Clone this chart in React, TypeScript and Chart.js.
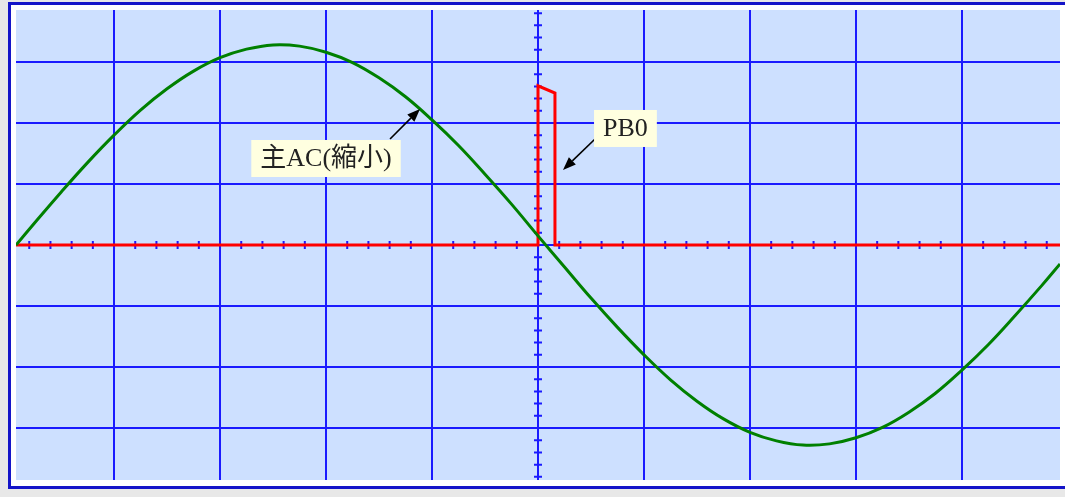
import React, { useEffect, useRef } from "react";
import Chart from "chart.js/auto";

// X in divisions (1 div = 106px), Y in divisions (1 div = 61px)
const sineX = [-4.925, -4.75, -4.5, -4.25, -4.0, -3.75, -3.5, -3.25, -3.0, -2.75, -2.5, -2.25, -2.0, -1.75, -1.5, -1.25, -1.0, -0.75, -0.5, -0.25, 0.0, 0.25, 0.5, 0.75, 1.0, 1.25, 1.5, 1.75, 2.0, 2.25, 2.5, 2.75, 3.0, 3.25, 3.5, 3.75, 4.0, 4.25, 4.5, 4.75, 4.925];
const sineY = [0, 0.36, 0.865, 1.35, 1.8, 2.21, 2.56, 2.85, 3.07, 3.21, 3.28, 3.26, 3.16, 2.99, 2.74, 2.43, 2.05, 1.63, 1.16, 0.67, 0.15, -0.36, -0.87, -1.35, -1.8, -2.21, -2.56, -2.85, -3.07, -3.21, -3.28, -3.26, -3.16, -2.99, -2.74, -2.43, -2.05, -1.63, -1.16, -0.67, -0.31];

const pulseX = [-4.925, 0.0, 0.0, 0.16, 0.16, 4.925];
const pulseY = [0, 0, 2.61, 2.49, 0, 0];

const xMajorTicks = [-4, -3, -2, -1, 0, 1, 2, 3, 4];
const yMajorTicks = [-3, -2, -1, 0, 1, 2, 3];

const seriesNames = ["主AC(縮小)", "PB0"];

const labelText = ["主AC(縮小)", "PB0"];
const labelCX = [-2.0, 0.825];
const labelCY = [1.418, 1.91];
const arrowFromX = [-1.396, 0.538];
const arrowFromY = [1.738, 1.738];
const arrowToX = [-1.113, 0.236];
const arrowToY = [2.23, 1.23];

const X_HALF = 4.925;
const Y_HALF = 3.852;

export default function App() {
  const ref = useRef<HTMLCanvasElement | null>(null);

  useEffect(() => {
    if (!ref.current) return;
    const bgPlugin = {
      id: "bg",
      beforeDraw(chart: any) {
        const { ctx, chartArea } = chart;
        ctx.save();
        ctx.fillStyle = "#cde0ff";
        ctx.fillRect(chartArea.left, chartArea.top, chartArea.right - chartArea.left, chartArea.bottom - chartArea.top);
        ctx.restore();
      },
    };
    const minorPlugin = {
      id: "minor",
      beforeDatasetsDraw(chart: any) {
        const { ctx } = chart;
        const xs = chart.scales.x;
        const ys = chart.scales.y;
        const x0 = xs.getPixelForValue(0);
        const y0 = ys.getPixelForValue(0);
        ctx.save();
        ctx.strokeStyle = "#1a1aff";
        ctx.lineWidth = 2;
        ctx.beginPath();
        for (let i = -25; i <= 25; i++) {
          const v = i * 0.2;
          if (Math.abs(v) > X_HALF) continue;
          const px = xs.getPixelForValue(v);
          ctx.moveTo(px, y0 - 4);
          ctx.lineTo(px, y0 + 4);
        }
        for (let i = -20; i <= 20; i++) {
          const v = i * 0.2;
          if (Math.abs(v) > Y_HALF) continue;
          const py = ys.getPixelForValue(v);
          ctx.moveTo(x0 - 4, py);
          ctx.lineTo(x0 + 4, py);
        }
        ctx.stroke();
        ctx.restore();
      },
    };
    const annPlugin = {
      id: "ann",
      afterDatasetsDraw(chart: any) {
        const { ctx } = chart;
        const xs = chart.scales.x;
        const ys = chart.scales.y;
        ctx.save();
        ctx.font = '26px "Liberation Serif", "Noto Sans CJK JP", serif';
        ctx.textBaseline = "middle";
        ctx.textAlign = "center";
        for (let i = 0; i < labelText.length; i++) {
          const fx = xs.getPixelForValue(arrowFromX[i]);
          const fy = ys.getPixelForValue(arrowFromY[i]);
          const tx = xs.getPixelForValue(arrowToX[i]);
          const ty = ys.getPixelForValue(arrowToY[i]);
          const ang = Math.atan2(ty - fy, tx - fx);
          const hl = 13;
          const hw = 5;
          const bx = tx - hl * Math.cos(ang);
          const by = ty - hl * Math.sin(ang);
          ctx.strokeStyle = "#000";
          ctx.lineWidth = 1.6;
          ctx.beginPath();
          ctx.moveTo(fx, fy);
          ctx.lineTo(bx, by);
          ctx.stroke();
          ctx.fillStyle = "#000";
          ctx.beginPath();
          ctx.moveTo(tx, ty);
          ctx.lineTo(bx + hw * Math.sin(ang), by - hw * Math.cos(ang));
          ctx.lineTo(bx - hw * Math.sin(ang), by + hw * Math.cos(ang));
          ctx.closePath();
          ctx.fill();
          const cx = xs.getPixelForValue(labelCX[i]);
          const cy = ys.getPixelForValue(labelCY[i]);
          const w = ctx.measureText(labelText[i]).width + 18;
          const h = 37;
          ctx.fillStyle = "#ffffe0";
          ctx.fillRect(cx - w / 2, cy - h / 2, w, h);
          ctx.fillStyle = "#222";
          ctx.fillText(labelText[i], cx, cy + 1);
        }
        ctx.restore();
      },
    };

    const chart = new Chart(ref.current, {
      type: "line",
      data: {
        datasets: [
          {
            label: seriesNames[0],
            data: sineX.map((x, i) => ({ x, y: sineY[i] })),
            borderColor: "#008000",
            borderWidth: 3,
            pointRadius: 0,
            tension: 0.4,
            order: 0,
          },
          {
            label: seriesNames[1],
            data: pulseX.map((x, i) => ({ x, y: pulseY[i] })),
            borderColor: "#ff0000",
            borderWidth: 3,
            pointRadius: 0,
            tension: 0,
            order: 1,
          },
        ],
      },
      options: {
        animation: false,
        responsive: false,
        maintainAspectRatio: false,
        layout: { padding: 0 },
        plugins: { legend: { display: false }, tooltip: { enabled: false } },
        scales: {
          x: {
            type: "linear",
            min: -X_HALF,
            max: X_HALF,
            afterBuildTicks: (scale: any) => {
              scale.ticks = xMajorTicks.map((v) => ({ value: v }));
            },
            ticks: { display: false },
            grid: { color: "#1a1aff", lineWidth: 2, drawTicks: false },
            border: { display: false },
          },
          y: {
            type: "linear",
            min: -Y_HALF,
            max: Y_HALF,
            afterBuildTicks: (scale: any) => {
              scale.ticks = yMajorTicks.map((v) => ({ value: v }));
            },
            ticks: { display: false },
            grid: { color: "#1a1aff", lineWidth: 2, drawTicks: false },
            border: { display: false },
          },
        },
      },
      plugins: [bgPlugin, minorPlugin, annPlugin],
    } as any);
    return () => chart.destroy();
  }, []);

  return (
    <div style={{ position: "fixed", inset: 0, background: "#e8e8e8", overflow: "hidden" }}>
      <div
        style={{
          position: "absolute",
          left: 8,
          top: 2,
          width: 1070,
          height: 487,
          boxSizing: "border-box",
          border: "3px solid #1414c8",
          background: "#ffffff",
        }}
      >
        <canvas
          ref={ref}
          width={1044}
          height={470}
          style={{ position: "absolute", left: 5, top: 5, width: 1044, height: 470 }}
        />
      </div>
    </div>
  );
}
